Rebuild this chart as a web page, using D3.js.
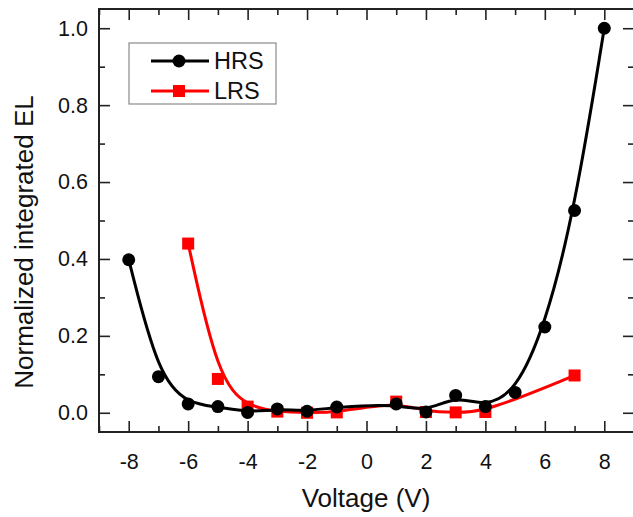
<!DOCTYPE html>
<html>
<head>
<meta charset="utf-8">
<script src="https://cdn.jsdelivr.net/npm/d3@7"></script>
<style>
  html, body { margin: 0; padding: 0; background: #fff; }
  svg { display: block; font-family: "Liberation Sans", Arial, sans-serif; }
</style>
</head>
<body>
<svg id="chart" width="633" height="517"></svg>
<script>
// Normalized integrated electroluminescence vs. applied voltage
const hrsVoltage = [-8, -7, -6, -5, -4, -3, -2, -1, 1, 2, 3, 4, 5, 6, 7, 8];
const hrsEL      = [0.398, 0.094, 0.023, 0.016, 0.001, 0.010, 0.004, 0.015, 0.023, 0.002, 0.045, 0.016, 0.053, 0.223, 0.526, 1.000];

const lrsVoltage = [-6, -5, -4, -3, -2, -1, 1, 2, 3, 4, 7];
const lrsEL      = [0.440, 0.088, 0.016, 0.003, 0.000, 0.001, 0.029, 0.002, 0.001, 0.002, 0.097];

const xMajorTicks = [-8, -6, -4, -2, 0, 2, 4, 6, 8];
const xMinorTicks = [-9, -7, -5, -3, -1, 1, 3, 5, 7, 9];
const yMajorTicks = [0.0, 0.2, 0.4, 0.6, 0.8, 1.0];
const yMinorTicks = [0.1, 0.3, 0.5, 0.7, 0.9];

const seriesNames = ["HRS", "LRS"];
const seriesColors = ["#000000", "#ff0000"];

const svg = d3.select("#chart");
const frame = { left: 99, right: 634, top: 9, bottom: 432 };

const x = d3.scaleLinear().domain([-9, 9]).range([frame.left, frame.right]);
const y = d3.scaleLinear().domain([-0.05, 1.05]).range([frame.bottom, frame.top]);

const tickFont = 21.5;
const axisColor = "#222";

function styleAxis(g) {
  g.select(".domain").remove();
  g.selectAll(".tick line").attr("stroke", axisColor).attr("stroke-width", 1.6);
  g.selectAll(".tick text").attr("fill", "#111").style("font-size", tickFont + "px");
}

// integer labels with a plain hyphen for negatives
const xLabel = d => String(d);

// bottom axis (labelled) + minor ticks
svg.append("g").attr("transform", `translate(0,${frame.bottom})`)
  .call(d3.axisBottom(x).tickValues(xMajorTicks).tickSize(-11).tickPadding(22).tickFormat(xLabel))
  .call(styleAxis);
svg.append("g").attr("transform", `translate(0,${frame.bottom})`)
  .call(d3.axisBottom(x).tickValues(xMinorTicks).tickSize(-6).tickFormat(""))
  .call(styleAxis);
// top axis ticks
svg.append("g").attr("transform", `translate(0,${frame.top})`)
  .call(d3.axisTop(x).tickValues(xMajorTicks).tickSize(-11).tickFormat(""))
  .call(styleAxis);
svg.append("g").attr("transform", `translate(0,${frame.top})`)
  .call(d3.axisTop(x).tickValues(xMinorTicks).tickSize(-6).tickFormat(""))
  .call(styleAxis);

// left axis (labelled) + minor ticks
svg.append("g").attr("transform", `translate(${frame.left},0)`)
  .call(d3.axisLeft(y).tickValues(yMajorTicks).tickSize(-11).tickPadding(11).tickFormat(d => d.toFixed(1)))
  .call(styleAxis);
svg.append("g").attr("transform", `translate(${frame.left},0)`)
  .call(d3.axisLeft(y).tickValues(yMinorTicks).tickSize(-6).tickFormat(""))
  .call(styleAxis);
// right axis ticks
svg.append("g").attr("transform", `translate(${frame.right},0)`)
  .call(d3.axisRight(y).tickValues(yMajorTicks).tickSize(-11).tickFormat(""))
  .call(styleAxis);
svg.append("g").attr("transform", `translate(${frame.right},0)`)
  .call(d3.axisRight(y).tickValues(yMinorTicks).tickSize(-6).tickFormat(""))
  .call(styleAxis);

// plot frame
svg.append("rect")
  .attr("x", frame.left).attr("y", frame.top)
  .attr("width", frame.right - frame.left).attr("height", frame.bottom - frame.top)
  .attr("fill", "none").attr("stroke", axisColor).attr("stroke-width", 2);

// axis titles
svg.append("text")
  .attr("x", 366).attr("y", 507)
  .attr("text-anchor", "middle").style("font-size", "26px").attr("fill", "#111")
  .text("Voltage (V)");
svg.append("text")
  .attr("transform", "translate(33,242) rotate(-90)")
  .attr("text-anchor", "middle").style("font-size", "26px").attr("fill", "#111")
  .text("Normalized integrated EL");

// smoothed B-spline connection through the measured points
const line = d3.line().x(d => x(d[0])).y(d => y(d[1])).curve(d3.curveBasis);

const hrs = hrsVoltage.map((v, i) => [v, hrsEL[i]]);
const lrs = lrsVoltage.map((v, i) => [v, lrsEL[i]]);

// LRS (drawn first, under HRS)
svg.append("path").datum(lrs).attr("d", line)
  .attr("fill", "none").attr("stroke", seriesColors[1]).attr("stroke-width", 3);
svg.append("g").selectAll("rect").data(lrs).join("rect")
  .attr("x", d => x(d[0]) - 6).attr("y", d => y(d[1]) - 6)
  .attr("width", 12).attr("height", 12).attr("fill", seriesColors[1]);

// HRS
svg.append("path").datum(hrs).attr("d", line)
  .attr("fill", "none").attr("stroke", seriesColors[0]).attr("stroke-width", 3);
svg.append("g").selectAll("circle").data(hrs).join("circle")
  .attr("cx", d => x(d[0])).attr("cy", d => y(d[1])).attr("r", 6.5)
  .attr("fill", seriesColors[0]);

// legend
const legend = svg.append("g");
legend.append("rect").attr("x", 129).attr("y", 43).attr("width", 147).attr("height", 61)
  .attr("fill", "#fff").attr("stroke", "#8a8a8a").attr("stroke-width", 1.2);
seriesNames.forEach((name, i) => {
  const ly = 61 + i * 30;
  legend.append("line").attr("x1", 151).attr("x2", 209).attr("y1", ly).attr("y2", ly)
    .attr("stroke", seriesColors[i]).attr("stroke-width", 3);
  if (i === 0) {
    legend.append("circle").attr("cx", 179).attr("cy", ly).attr("r", 6.5).attr("fill", seriesColors[i]);
  } else {
    legend.append("rect").attr("x", 173).attr("y", ly - 6).attr("width", 12).attr("height", 12).attr("fill", seriesColors[i]);
  }
  legend.append("text").attr("x", 214).attr("y", ly).attr("dy", "0.36em")
    .style("font-size", "23.5px").attr("fill", "#111").text(name);
});
</script>
</body>
</html>
